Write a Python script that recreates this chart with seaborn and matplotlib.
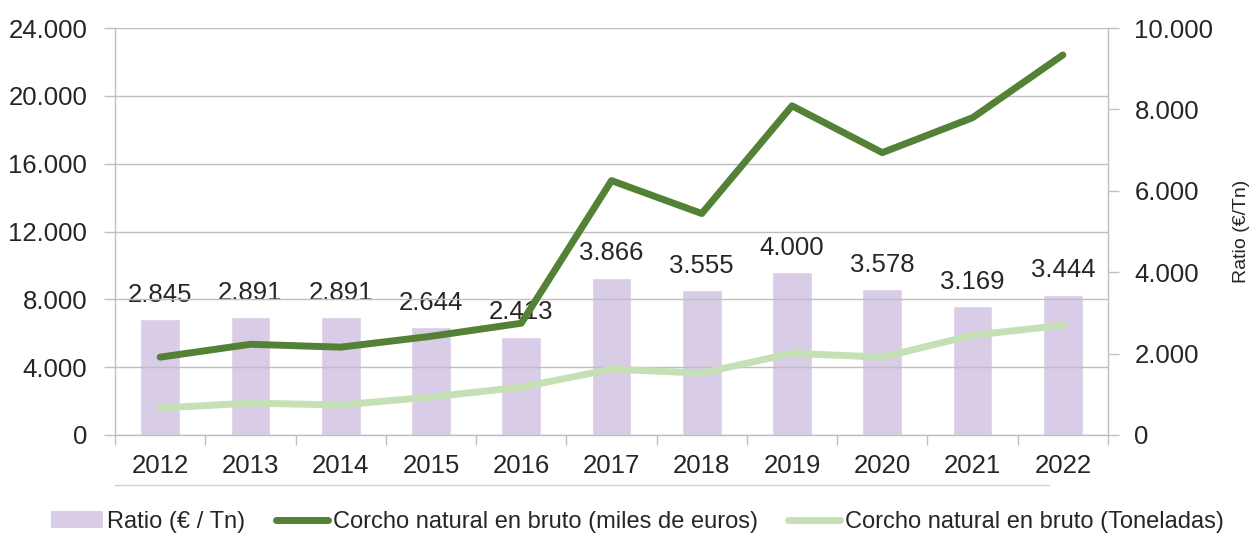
import numpy as np
import pandas as pd
import seaborn as sns
import matplotlib.pyplot as plt
from matplotlib.patches import Patch
from matplotlib.lines import Line2D
from matplotlib.ticker import FuncFormatter, FixedLocator

# datos
years = ["2012", "2013", "2014", "2015", "2016", "2017", "2018", "2019", "2020", "2021", "2022"]
ratio = [2845, 2891, 2891, 2644, 2413, 3866, 3555, 4000, 3578, 3169, 3444]
miles_euros = [4590, 5350, 5180, 5820, 6590, 15000, 13060, 19410, 16650, 18710, 22410]
toneladas = [1590, 1880, 1770, 2240, 2820, 3880, 3650, 4820, 4590, 5880, 6470]

COL_BAR = "#D9CCE6"
COL_DARK = "#538135"
COL_LIGHT = "#C5E0B4"
COL_GRID = "#BFBFBF"
COL_TXT = "#262626"

sns.set_theme(style="white")
plt.rcParams['font.family'] = ['Liberation Sans', 'DejaVu Sans']


def miles(v, pos=None):
    return f"{int(round(v)):,}".replace(",", ".")


df = pd.DataFrame({"year": years, "ratio": ratio,
                   "euros": miles_euros, "ton": toneladas})
df["pos"] = np.arange(len(df))

fig = plt.figure(figsize=(12.52, 5.4), dpi=100)
ax = fig.add_axes([115 / 1252, 105 / 540, 993 / 1252, 407 / 540])
ax2 = ax.twinx()

# barras en el eje derecho
sns.barplot(data=df, x="year", y="ratio", ax=ax2, color=COL_BAR,
            width=0.44, saturation=1)
ax2.bar_label(ax2.containers[0], labels=[miles(v) for v in ratio],
              padding=9, fontsize=18.5, color=COL_TXT)

# líneas en el eje izquierdo
sns.lineplot(data=df, x="pos", y="euros", ax=ax, color=COL_DARK, lw=5,
             solid_capstyle="round")
sns.lineplot(data=df, x="pos", y="ton", ax=ax, color=COL_LIGHT, lw=5,
             solid_capstyle="round")

ax.set_zorder(ax2.get_zorder() + 1)
ax.patch.set_visible(False)

ax.set_xlim(-0.5, len(years) - 0.5)
ax.set_ylim(0, 24000)
ax2.set_ylim(0, 10000)
ax.set_yticks(np.arange(0, 24001, 4000))
ax2.set_yticks(np.arange(0, 10001, 2000))
ax.yaxis.set_major_formatter(FuncFormatter(miles))
ax2.yaxis.set_major_formatter(FuncFormatter(miles))

ax.set_xticks(df["pos"])
ax.set_xticklabels(years)
ax.xaxis.set_minor_locator(FixedLocator(np.arange(-0.5, len(years), 1.0)))
ax.tick_params(axis="x", which="major", length=0, pad=14, labelsize=18.5, colors=COL_TXT)
ax.tick_params(axis="x", which="minor", length=7, width=1, color=COL_GRID, direction="out",
               bottom=True)
ax.tick_params(axis="y", length=8, width=1, color=COL_GRID, pad=12, labelsize=18.5,
               labelcolor=COL_TXT, left=True)
ax2.tick_params(axis="y", length=8, width=1, color=COL_GRID, pad=11, labelsize=18.5,
                labelcolor=COL_TXT, right=True)

ax.set_xlabel("")
ax.set_ylabel("")
ax2.set_xlabel("")
ax2.set_ylabel("Ratio (€/Tn)", fontsize=14, color=COL_TXT, labelpad=14)

ax.yaxis.grid(True, color=COL_GRID, lw=1)
ax.xaxis.grid(False)
ax2.grid(False)

for s in ["top", "right"]:
    ax.spines[s].set_visible(False)
for s in ["top", "left", "bottom"]:
    ax2.spines[s].set_visible(False)
for s in ["left", "bottom"]:
    ax.spines[s].set_color(COL_GRID)
    ax.spines[s].set_linewidth(1)
ax2.spines["right"].set_color(COL_GRID)
ax2.spines["right"].set_linewidth(1)

# línea bajo los años
fig.add_artist(Line2D([115 / 1252, 1049 / 1252], [1 - 485 / 540] * 2,
                      color="#D0D0D0", lw=1))

handles = [Patch(facecolor=COL_BAR, edgecolor="none"),
           Line2D([0], [0], color=COL_DARK, lw=5, solid_capstyle="round"),
           Line2D([0], [0], color=COL_LIGHT, lw=5, solid_capstyle="round")]
names = ["Ratio (€ / Tn)", "Corcho natural en bruto (miles de euros)",
         "Corcho natural en bruto (Toneladas)"]
fig.legend(handles, names, loc="center", bbox_to_anchor=(0.509, 1 - 522 / 540),
           ncol=3, frameon=False, fontsize=17, handlelength=2.2,
           handletextpad=0.2, columnspacing=1.3, labelcolor=COL_TXT)

fig.savefig("out.png", dpi=100)
